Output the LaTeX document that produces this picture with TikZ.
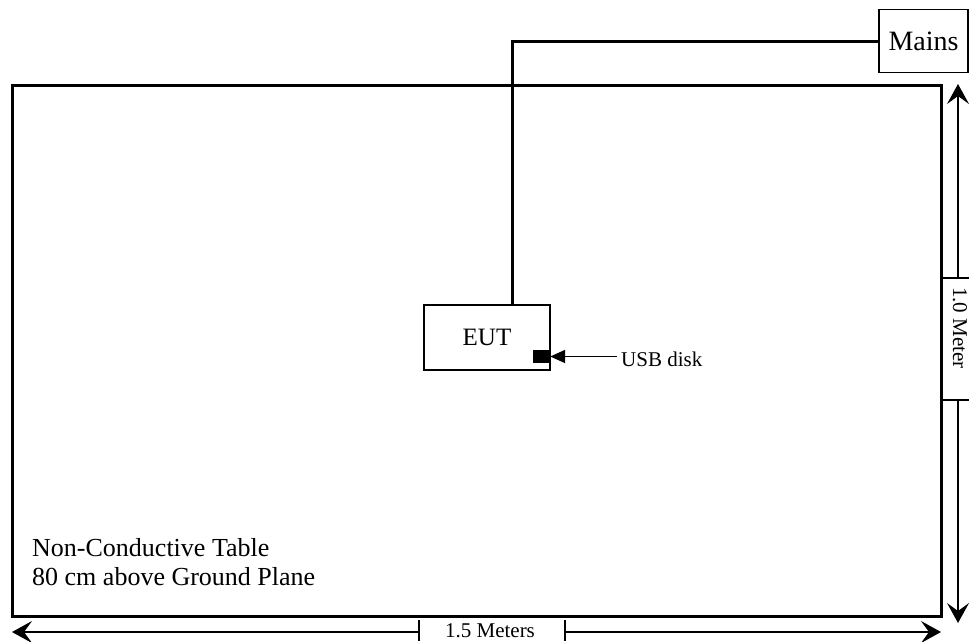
\documentclass[tikz,border=0pt]{standalone}
\usepackage{fontspec}
\setmainfont{Liberation Serif}
\usetikzlibrary{arrows.meta}
\begin{document}
\begin{tikzpicture}[x=1pt,y=-1pt,
  box/.style={draw,line width=1.3pt,inner sep=0pt},
  thickline/.style={line width=3pt},
  dimline1/.style={line width=1.2pt,-{Stealth[length=20pt,width=22pt,inset=8pt]}},
  tick/.style={line width=1.2pt},
  usbarrow/.style={line width=1.8pt,-{Triangle[length=15pt,width=13pt]}},
  dimtext/.style={font=\fontsize{21}{24}\selectfont,inner sep=0pt}
]
\useasboundingbox (0,0) rectangle (969,641);
% table
\node[draw,line width=3pt,inner sep=0pt,minimum width=929pt,minimum height=531pt] (table) at (476.5,350.5) {};
% mains
\node[box,minimum width=89pt,minimum height=63pt,font=\fontsize{28}{32}\selectfont] (mains) at (923.5,41) {Mains};
% EUT
\node[box,minimum width=126pt,minimum height=65pt,font=\fontsize{25}{28}\selectfont] (eut) at (487,337.5) {EUT};
\node[fill=black,inner sep=0pt,minimum width=17pt,minimum height=13pt] (usb) at (541.5,356.5) {};
% power line
\draw[thickline] ([xshift=25pt]eut.north) |- (mains.west);
% USB arrow
\coordinate (usbstart) at (617,356.5);
\draw[usbarrow] (usbstart) -- (usb.east);
\node[anchor=base west,inner sep=0pt,font=\fontsize{21}{24}\selectfont] (usbtext) at (621,366) {USB disk};
% table text
\node[anchor=south west,inner sep=0pt,align=left,font=\fontsize{26}{29}\selectfont] (tabletext) at (32,586) {Non-Conductive Table\\80 cm above Ground Plane};
% right dimension
\coordinate (rtop) at (958,84);
\coordinate (rbot) at (958,623);
\coordinate (rt1) at (958,278);
\coordinate (rt2) at (958,400);
\coordinate (rt1a) at (943,278);
\coordinate (rt1b) at (969,278);
\coordinate (rt2a) at (943,400);
\coordinate (rt2b) at (969,400);
\draw[dimline1] (rt1) -- (rtop);
\draw[dimline1] (rt2) -- (rbot);
\draw[tick] (rt1a) -- (rt1b);
\draw[tick] (rt2a) -- (rt2b);
\node[dimtext,rotate=-90] (rtext) at (960,328) {1.0 Meter};
% bottom dimension
\coordinate (bl) at (12,632);
\coordinate (br) at (941,632);
\coordinate (bt1) at (419,632);
\coordinate (bt2) at (565,632);
\coordinate (bt1a) at (419,620);
\coordinate (bt1b) at (419,641);
\coordinate (bt2a) at (565,620);
\coordinate (bt2b) at (565,641);
\draw[dimline1] (bt1) -- (bl);
\draw[dimline1] (bt2) -- (br);
\draw[tick] (bt1a) -- (bt1b);
\draw[tick] (bt2a) -- (bt2b);
\node[dimtext] (btext) at (490,631) {1.5 Meters};
\end{tikzpicture}
\end{document}
